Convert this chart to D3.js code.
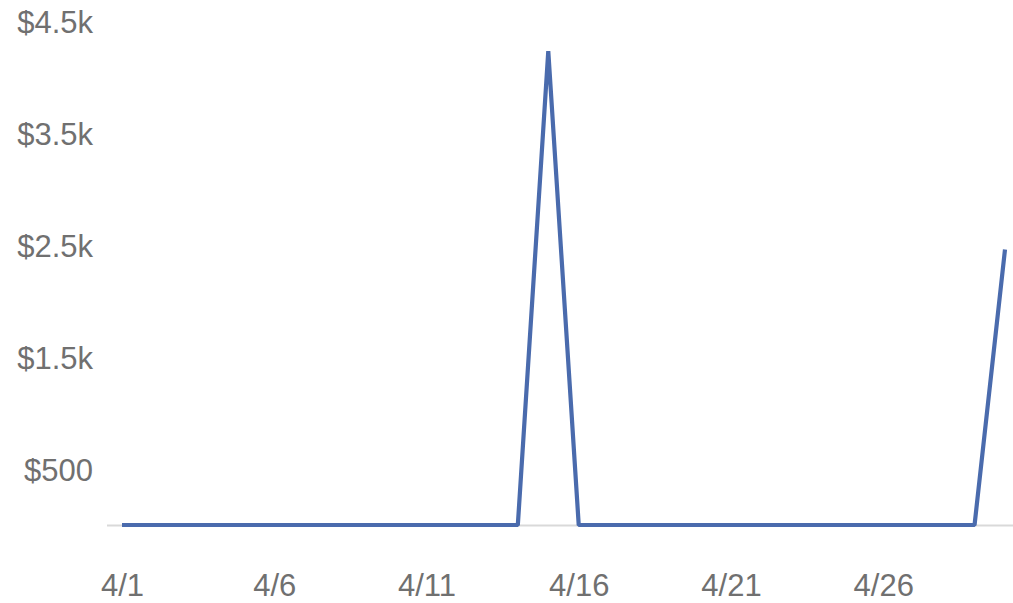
<!DOCTYPE html>
<html>
<head>
<meta charset="utf-8">
<script src="https://cdn.jsdelivr.net/npm/d3@7/dist/d3.min.js"></script>
<style>
  html, body { margin: 0; padding: 0; background: #fff; }
  svg { display: block; }
</style>
</head>
<body>
<svg id="chart" width="1013" height="603"></svg>
<script>
const days = ["4/1","4/2","4/3","4/4","4/5","4/6","4/7","4/8","4/9","4/10",
  "4/11","4/12","4/13","4/14","4/15","4/16","4/17","4/18","4/19","4/20",
  "4/21","4/22","4/23","4/24","4/25","4/26","4/27","4/28","4/29","4/30"];
const values = [0,0,0,0,0,0,0,0,0,0,
  0,0,0,0,4230,0,0,0,0,0,
  0,0,0,0,0,0,0,0,0,2460];
const xTickLabels = ["4/1","4/6","4/11","4/16","4/21","4/26"];
const yTickValues = [500, 1500, 2500, 3500, 4500];
const yTickLabels = ["$500","$1.5k","$2.5k","$3.5k","$4.5k"];

const svg = d3.select("#chart");
const font = "'Liberation Sans', Arial, sans-serif";
const textColor = "#707070";

const x = d3.scalePoint().domain(days).range([122, 1005]);
const y = d3.scaleLinear().domain([0, 4500]).range([525, 21]);

// baseline axis line
svg.append("line")
  .attr("x1", 107).attr("x2", 1013)
  .attr("y1", y(0) + 0.5).attr("y2", y(0) + 0.5)
  .attr("stroke", "#d9d9d9").attr("stroke-width", 2);

// y axis labels
const yAxis = d3.axisLeft(y)
  .tickValues(yTickValues)
  .tickFormat((d, i) => yTickLabels[i])
  .tickSize(0).tickPadding(0);
const gy = svg.append("g").attr("transform", "translate(93,0)").call(yAxis);
gy.select(".domain").remove();
gy.selectAll("text")
  .attr("font-family", font).attr("font-size", 31)
  .attr("fill", textColor).attr("dy", "0.36em");

// x axis labels
const xAxis = d3.axisBottom(x)
  .tickValues(xTickLabels)
  .tickSize(0).tickPadding(0);
const gx = svg.append("g").attr("transform", "translate(0,596)").call(xAxis);
gx.select(".domain").remove();
gx.selectAll("text")
  .attr("font-family", font).attr("font-size", 31)
  .attr("fill", textColor).attr("dy", 0);

// line
const line = d3.line()
  .x((d, i) => x(days[i]))
  .y(d => y(d));
svg.append("path")
  .datum(values)
  .attr("d", line)
  .attr("fill", "none")
  .attr("stroke", "#4a6bad")
  .attr("stroke-width", 4.2)
  .attr("stroke-linejoin", "bevel");
</script>
</body>
</html>
